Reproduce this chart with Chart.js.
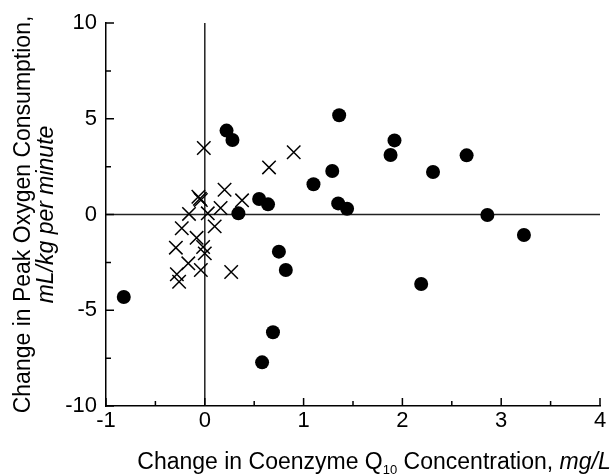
<!DOCTYPE html>
<html>
<head>
<meta charset="utf-8">
<script src="https://cdn.jsdelivr.net/npm/chart.js@4/dist/chart.umd.min.js"></script>
<style>
  body { margin: 0; background: #fff; }
  canvas { display: block; }
</style>
</head>
<body>
<canvas id="q10Chart" width="611" height="474"></canvas>
<script>
// filled circles
const dotX = [-0.82, 0.22, 0.28, 0.34, 0.55, 0.64, 0.58, 0.69, 0.75, 0.82, 1.10, 1.29, 1.36, 1.35, 1.44, 1.88, 1.92, 2.19, 2.31, 2.65, 2.86, 3.23];
const dotY = [-4.31, 4.38, 3.89, 0.06, 0.81, 0.53, -7.72, -6.15, -1.94, -2.90, 1.58, 2.27, 5.18, 0.58, 0.30, 3.11, 3.87, -3.63, 2.22, 3.09, -0.03, -1.07];

// crosses
const crossX = [-0.01, 0.65, 0.90, 0.20, -0.065, -0.04, -0.05, 0.377, 0.16, -0.16, 0.03, 0.10, -0.233, -0.083, -0.293, -0.017, 0.0, -0.167, -0.04, 0.267, -0.283, -0.26];
const crossY = [3.47, 2.46, 3.25, 1.29, 0.93, 0.76, 0.82, 0.74, 0.34, 0.03, 0.06, -0.62, -0.72, -1.22, -1.73, -1.70, -2.03, -2.55, -2.90, -3.00, -3.12, -3.51];

const xRange = [-1, 4];
const yRange = [-10, 10];

const FONT = '"Liberation Sans", Arial, sans-serif';

const toPoints = (xs, ys) => xs.map((v, i) => ({ x: v, y: ys[i] }));

// zero lines, inward ticks and the axis titles
const axisDecor = {
  id: 'axisDecor',
  beforeDatasetsDraw(chart) {
    const { ctx, chartArea: a, scales: { x, y } } = chart;
    ctx.save();
    ctx.lineWidth = 1.5;
    ctx.strokeStyle = '#222';
    const x0 = x.getPixelForValue(0);
    const y0 = y.getPixelForValue(0);
    ctx.beginPath();
    ctx.moveTo(x0, a.top); ctx.lineTo(x0, a.bottom);
    ctx.moveTo(a.left, y0); ctx.lineTo(a.right, y0);
    ctx.stroke();

    ctx.strokeStyle = '#000';
    ctx.beginPath();
    for (let v = xRange[0]; v <= xRange[1] + 1e-9; v += 0.5) {
      const px = x.getPixelForValue(v);
      const len = Number.isInteger(v) ? 8 : 5;
      ctx.moveTo(px, a.bottom); ctx.lineTo(px, a.bottom - len);
    }
    for (let v = yRange[0]; v <= yRange[1] + 1e-9; v += 2.5) {
      const py = y.getPixelForValue(v);
      const len = v % 5 === 0 ? 8 : 5;
      ctx.moveTo(a.left, py); ctx.lineTo(a.left + len, py);
    }
    ctx.stroke();
    ctx.restore();
  },
  afterDraw(chart) {
    const ctx = chart.ctx;
    const a = chart.chartArea;
    ctx.save();
    ctx.fillStyle = '#000';
    ctx.textBaseline = 'alphabetic';

    // y title, two lines
    const cy = (a.top + a.bottom) / 2;
    ctx.textAlign = 'center';
    ctx.save();
    ctx.translate(30, cy);
    ctx.rotate(-Math.PI / 2);
    ctx.font = '23px ' + FONT;
    ctx.fillText('Change in Peak Oxygen Consumption,', 0, 0);
    ctx.restore();
    ctx.save();
    ctx.translate(53, cy);
    ctx.rotate(-Math.PI / 2);
    ctx.font = 'italic 23px ' + FONT;
    ctx.fillText('mL/kg per minute', 0, 0);
    ctx.restore();

    // x title with subscript
    const parts = [
      { t: 'Change in Coenzyme Q', f: '23px ' + FONT, dy: 0 },
      { t: '10', f: '13px ' + FONT, dy: 5 },
      { t: ' Concentration, ', f: '23px ' + FONT, dy: 0 },
      { t: 'mg/L', f: 'italic 23px ' + FONT, dy: 0 }
    ];
    let total = 0;
    parts.forEach(p => { ctx.font = p.f; p.w = ctx.measureText(p.t).width; total += p.w; });
    let px = 374 - total / 2;
    ctx.textAlign = 'left';
    parts.forEach(p => {
      ctx.font = p.f;
      ctx.fillText(p.t, px, 469 + p.dy);
      px += p.w;
    });
    ctx.restore();
  }
};

const ctx = document.getElementById('q10Chart').getContext('2d');

new Chart(ctx, {
  type: 'scatter',
  data: {
    datasets: [
      {
        label: 'circles',
        data: toPoints(dotX, dotY),
        pointStyle: 'circle',
        pointRadius: 7,
        backgroundColor: '#000',
        borderColor: '#000',
        borderWidth: 0
      },
      {
        label: 'crosses',
        data: toPoints(crossX, crossY),
        pointStyle: 'crossRot',
        pointRadius: 9.5,
        borderColor: '#000',
        borderWidth: 1.5
      }
    ]
  },
  options: {
    responsive: false,
    animation: false,
    layout: { padding: { top: 23, right: 6, left: 0, bottom: 0 } },
    plugins: {
      legend: { display: false },
      tooltip: { enabled: false }
    },
    scales: {
      x: {
        type: 'linear',
        min: xRange[0],
        max: xRange[1],
        afterFit: s => { s.height = 68; },
        grid: { display: false, drawTicks: false },
        border: { display: true, color: '#000', width: 1.5 },
        ticks: { stepSize: 1, color: '#000', padding: 2, font: { size: 22, family: FONT } }
      },
      y: {
        type: 'linear',
        min: yRange[0],
        max: yRange[1],
        afterFit: s => { s.width = 106; },
        grid: { display: false, drawTicks: false },
        border: { display: true, color: '#000', width: 1.5 },
        ticks: { stepSize: 5, color: '#000', padding: 9, font: { size: 22, family: FONT } }
      }
    }
  },
  plugins: [axisDecor]
});
</script>
</body>
</html>
